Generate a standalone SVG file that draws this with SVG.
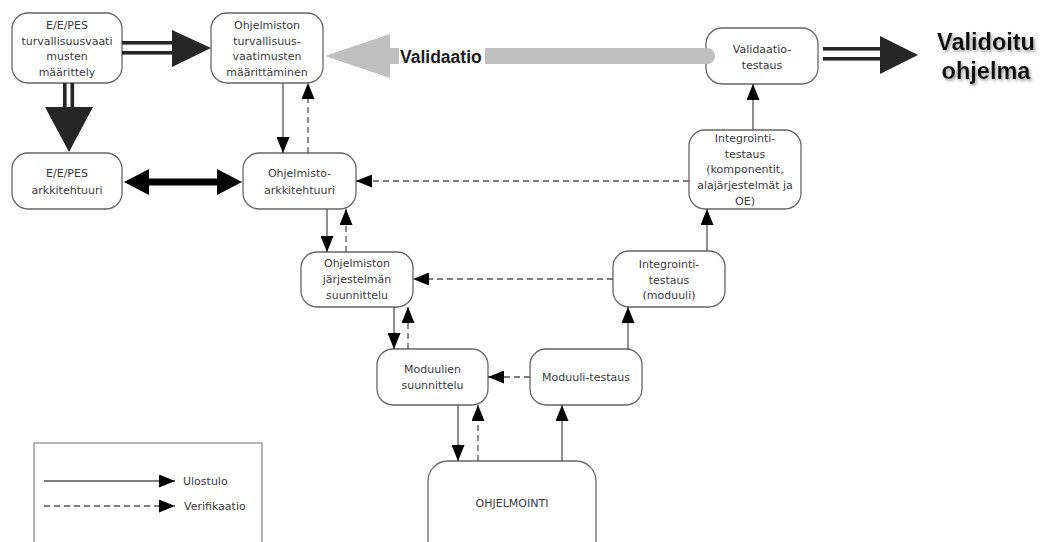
<svg xmlns="http://www.w3.org/2000/svg" width="1042" height="542" viewBox="0 0 1042 542">
<defs>
<style>
.node rect{fill:#fff;stroke:#666;stroke-width:1.3}
.node text{font-family:"DejaVu Sans",sans-serif;font-size:11px;fill:#3a3a3a;text-anchor:middle}
.c{fill:none;stroke:#555;stroke-width:1.3}
.d{stroke-dasharray:6,4}
.big{fill:#262626}
.lg{font-family:"DejaVu Sans",sans-serif;font-size:11px;fill:#3a3a3a}
</style>
<marker id="ah" markerUnits="userSpaceOnUse" markerWidth="16" markerHeight="13" refX="16" refY="6.5" orient="auto">
<path d="M0,0 L16,6.5 L0,13 z" fill="#000"/>
</marker>
<filter id="sh" x="-20%" y="-30%" width="140%" height="170%">
<feDropShadow dx="1.5" dy="2" stdDeviation="1.8" flood-color="#888" flood-opacity="0.8"/>
</filter>
</defs>
<rect width="1042" height="542" fill="#fff"/>

<g id="n1" class="node">
<rect x="12" y="13" width="110" height="70" rx="16"/>
<text x="67" y="29">E/E/PES</text>
<text x="67" y="45">turvallisuusvaati</text>
<text x="67" y="60">musten</text>
<text x="67" y="76">määrittely</text>
</g>
<g id="n2" class="node">
<rect x="211" y="13" width="112" height="70" rx="16"/>
<text x="267" y="29">Ohjelmiston</text>
<text x="267" y="45">turvallisuus-</text>
<text x="267" y="60">vaatimusten</text>
<text x="267" y="76">määrittäminen</text>
</g>
<g id="n3" class="node">
<rect x="12" y="153" width="110" height="56" rx="16"/>
<text x="67" y="177">E/E/PES</text>
<text x="67" y="194">arkkitehtuuri</text>
</g>
<g id="n4" class="node">
<rect x="243" y="153" width="113" height="56" rx="16"/>
<text x="299.5" y="177">Ohjelmisto-</text>
<text x="299.5" y="194">arkkitehtuuri</text>
</g>
<g id="n5" class="node">
<rect x="301" y="252" width="112" height="55" rx="16"/>
<text x="357" y="267">Ohjelmiston</text>
<text x="357" y="283">järjestelmän</text>
<text x="357" y="299">suunnittelu</text>
</g>
<g id="n6" class="node">
<rect x="377" y="349" width="111" height="56" rx="16"/>
<text x="432.5" y="373">Moduulien</text>
<text x="432.5" y="389">suunnittelu</text>
</g>
<g id="n7" class="node">
<rect x="530" y="349" width="112" height="56" rx="16"/>
<text x="586" y="381">Moduuli-testaus</text>
</g>
<g id="n8" class="node">
<rect x="613" y="251" width="112" height="56" rx="16"/>
<text x="669" y="268">Integrointi-</text>
<text x="669" y="284">testaus</text>
<text x="669" y="299">(moduuli)</text>
</g>
<g id="n9" class="node">
<rect x="689" y="130" width="112" height="79" rx="16"/>
<text x="745" y="142">Integrointi-</text>
<text x="745" y="158">testaus</text>
<text x="745" y="173">(komponentit,</text>
<text x="745" y="189">alajärjestelmät ja</text>
<text x="745" y="205">OE)</text>
</g>
<g id="n10" class="node">
<rect x="706" y="28" width="112" height="56" rx="16"/>
<text x="762" y="53">Validaatio-</text>
<text x="762" y="69">testaus</text>
</g>
<g id="n11" class="node">
<rect x="428" y="461" width="168" height="100" rx="20"/>
<text x="512" y="507">OHJELMOINTI</text>
</g>

<g id="connectors">
<rect class="big" x="122" y="41" width="52" height="3.6"/>
<rect class="big" x="122" y="51" width="52" height="3.6"/>
<polygon class="big" points="172,30 211,48 172,67"/>
<rect class="big" x="63" y="83" width="3.6" height="26"/>
<rect class="big" x="70.5" y="83" width="3.6" height="26"/>
<polygon class="big" points="45,107 93,107 69,152"/>
<rect x="146" y="178.5" width="74" height="7" fill="#000"/>
<polygon points="124,182 149,169 149,195" fill="#000"/>
<polygon points="242,182 217,169 217,195" fill="#000"/>
<line x1="388" y1="56" x2="707" y2="56" stroke="#bfbfbf" stroke-width="16" stroke-linecap="round"/>
<polygon points="325,56 390,34 390,78" fill="#bfbfbf"/>
<rect x="399" y="45" width="86" height="22" fill="#fff"/>
<text x="400" y="63" font-family="'Liberation Sans',Arial,sans-serif" font-weight="bold" font-size="17.5" fill="#1a1a1a">Validaatio</text>
<rect class="big" x="823" y="47" width="59" height="3.6"/>
<rect class="big" x="823" y="57" width="59" height="3.6"/>
<polygon class="big" points="880,36 918,55 880,74"/>
<line class="c" x1="283" y1="83" x2="283" y2="153" marker-end="url(#ah)"/>
<line class="c d" x1="308" y1="153" x2="308" y2="83" marker-end="url(#ah)"/>
<line class="c" x1="327" y1="209" x2="327" y2="252" marker-end="url(#ah)"/>
<line class="c d" x1="346" y1="252" x2="346" y2="209" marker-end="url(#ah)"/>
<line class="c" x1="394" y1="307" x2="394" y2="349" marker-end="url(#ah)"/>
<line class="c d" x1="408" y1="349" x2="408" y2="307" marker-end="url(#ah)"/>
<line class="c" x1="458" y1="405" x2="458" y2="461" marker-end="url(#ah)"/>
<line class="c d" x1="478" y1="461" x2="478" y2="405" marker-end="url(#ah)"/>
<line class="c" x1="562" y1="461" x2="562" y2="405" marker-end="url(#ah)"/>
<line class="c d" x1="530" y1="377" x2="488" y2="377" marker-end="url(#ah)"/>
<line class="c" x1="628" y1="349" x2="628" y2="307" marker-end="url(#ah)"/>
<line class="c d" x1="613" y1="279" x2="413" y2="279" marker-end="url(#ah)"/>
<line class="c" x1="707" y1="251" x2="707" y2="209" marker-end="url(#ah)"/>
<line class="c d" x1="689" y1="181" x2="356" y2="181" marker-end="url(#ah)"/>
<line class="c" x1="753" y1="130" x2="753" y2="84" marker-end="url(#ah)"/>
</g>

<g id="validoitu" filter="url(#sh)" font-family="'Liberation Sans',Arial,sans-serif" font-weight="bold" font-size="23.5" fill="#111" text-anchor="middle">
<text x="986" y="50">Validoitu</text>
<text x="986" y="79">ohjelma</text>
</g>

<g id="legend">
<rect x="34" y="443" width="228" height="120" fill="#fff" stroke="#888" stroke-width="1.2"/>
<line class="c" x1="44" y1="481" x2="175" y2="481" marker-end="url(#ah)"/>
<line class="c d" x1="44" y1="506" x2="175" y2="506" marker-end="url(#ah)"/>
<text class="lg" x="183" y="485">Ulostulo</text>
<text class="lg" x="184" y="510">Verifikaatio</text>
</g>
</svg>
